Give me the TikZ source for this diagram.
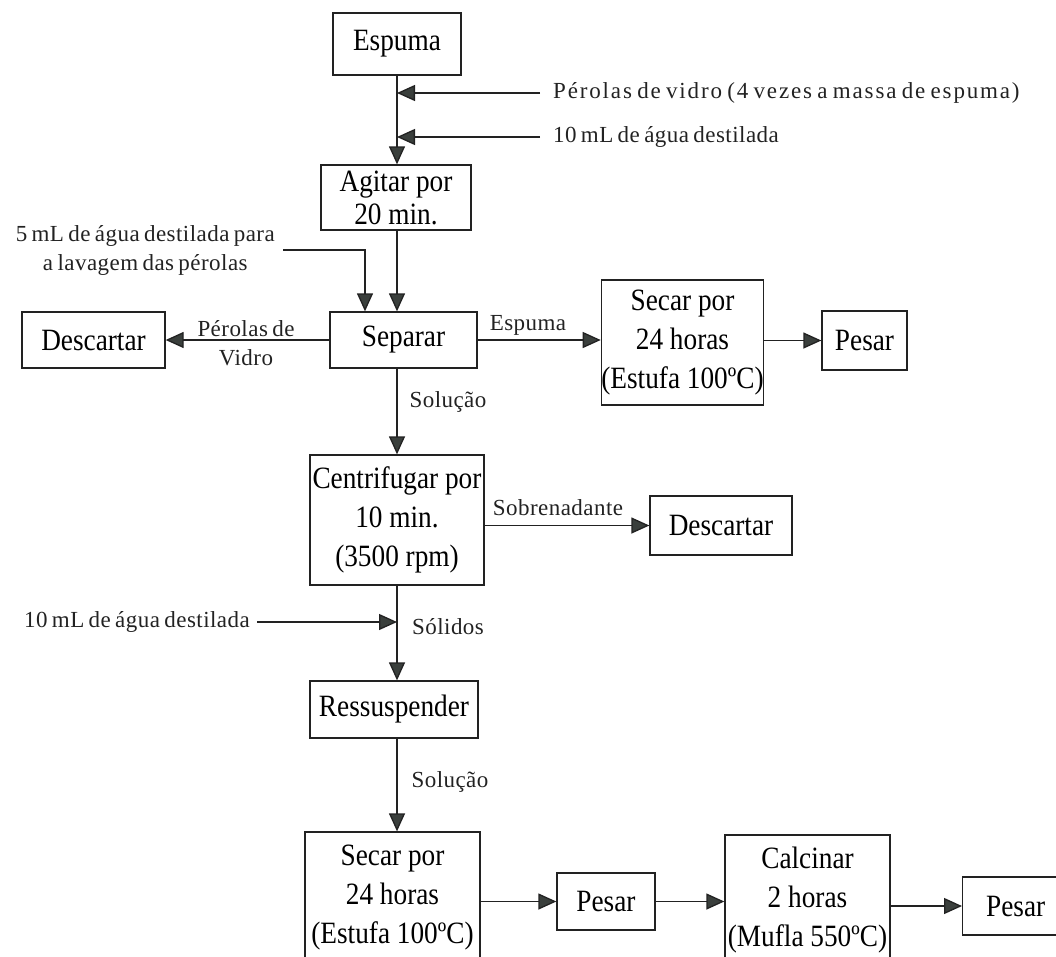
\documentclass[tikz,border=0pt]{standalone}
\usepackage{fontspec}
\setmainfont{Liberation Serif}
\newfontfamily\procfamily{Liberation Serif}[FakeStretch=0.88]
\newfontfamily\notefamily{Liberation Serif}[LetterSpace=2,WordSpace=0.7]
\usetikzlibrary{arrows.meta}
\definecolor{linec}{HTML}{222222}
\definecolor{headc}{HTML}{3A3F3C}
\newcommand\procfont{\procfamily\fontsize{31}{39}\selectfont}
\newcommand\notefont{\notefamily\fontsize{23}{29}\selectfont}
\tikzset{
  proc/.style={draw=linec, line width=1.3pt, fill=white, align=center,
               font=\procfont, inner sep=0pt},
  flow/.style={draw=linec, line width=1.3pt,
               -{Triangle[length=18pt,width=16pt,fill=headc]}},
  note/.style={font=\notefont, text=linec, inner sep=0pt, align=center},
  widenote/.style={note, font=\notefont\addfontfeature{LetterSpace=8}},
}
\begin{document}
\begin{tikzpicture}[x=1pt,y=-1pt]
\useasboundingbox (0,0) rectangle (1056,956);
\clip (0,0) rectangle (1056,956);

% process boxes
\node[proc, minimum width=128, minimum height=62] (espuma)  at (397,44) {Espuma};
\node[proc, minimum width=150, minimum height=65] (agitar)  at (396,197.5) {Agitar por\\[-6pt]20 min.};
\node[proc, minimum width=147, minimum height=56] (separar) at (403.5,340) {Separar};
\node[proc, minimum width=143, minimum height=56] (descA)   at (93.5,340) {Descartar};
\node[proc, minimum width=155, minimum height=125] (secarA) at (682.5,342.5) {Secar por\\24 horas\\(Estufa 100ºC)};
\node[proc, minimum width=85, minimum height=59] (pesarA)   at (864.5,340.5) {Pesar};
\node[proc, minimum width=174, minimum height=130] (centr)  at (397,520) {Centrifugar por\\10 min.\\(3500 rpm)};
\node[proc, minimum width=142, minimum height=59] (descB)   at (721,525.5) {Descartar};
\node[proc, minimum width=168, minimum height=57] (ressus)  at (394,709.5) {Ressuspender};
\node[proc, minimum width=175, minimum height=132] (secarB) at (392.5,898) {Secar por\\24 horas\\(Estufa 100ºC)};
\node[proc, minimum width=98, minimum height=57] (pesarB)   at (606,901.5) {Pesar};
\node[proc, minimum width=165, minimum height=130] (calc)   at (807.5,900) {Calcinar\\2 horas\\(Mufla 550ºC)};
\node[proc, minimum width=106, minimum height=58, anchor=west] (pesarC) at (962,906) {Pesar};

% notes
\node[widenote, anchor=west] (inA) at (553,93) {Pérolas de vidro (4 vezes a massa de espuma)};
\node[note, anchor=west] (inB) at (553,137) {10 mL de água destilada};
\node[note, anchor=east] (inC) at (275,250) {5 mL de água destilada para\\a lavagem das pérolas};
\node[note, anchor=east] (inD) at (250,622) {10 mL de água destilada};
\node[note] (lPer) at (246,343) {Pérolas de\\Vidro};
\node[note] (lEsp) at (528,325) {Espuma};
\node[note] (lSol) at (448,402) {Solução};
\node[note] (lSob) at (558,508) {Sobrenadante};
\node[note] (lSoli) at (448,627) {Sólidos};
\node[note] (lSolB) at (450,782) {Solução};

% main column
\coordinate (cA) at (397,0);
\draw[flow] (espuma.south -| cA) -- (agitar.north -| cA);
\draw[flow] (agitar.south -| cA) -- (separar.north -| cA);
\draw[flow] (separar.south -| cA) -- (centr.north -| cA);
\draw[flow] (centr.south -| cA) -- (ressus.north -| cA);
\draw[flow] (ressus.south -| cA) -- (secarB.north -| cA);

% side inputs
\draw[flow] ([xshift=-13pt]inA.west) -- (inA.west -| cA);
\draw[flow] ([xshift=-13pt]inB.west) -- (inB.west -| cA);
\coordinate (cB) at (365,0);
\draw[flow] ([xshift=8pt]inC.east) -| (separar.north -| cB);
\draw[flow] ([xshift=7pt]inD.east) -- (inD.east -| cA);

% outputs
\draw[flow] (separar.west) -- (descA.east);
\draw[flow] (separar.east) -- (secarA.west |- separar.east);
\draw[flow] (secarA.east |- pesarA.west) -- (pesarA.west);
\draw[flow] (centr.east |- descB.west) -- (descB.west);
\draw[flow] (secarB.east |- pesarB.west) -- (pesarB.west);
\draw[flow] (pesarB.east) -- (calc.west |- pesarB.east);
\draw[flow] (calc.east |- pesarC.west) -- (pesarC.west);
\end{tikzpicture}
\end{document}
